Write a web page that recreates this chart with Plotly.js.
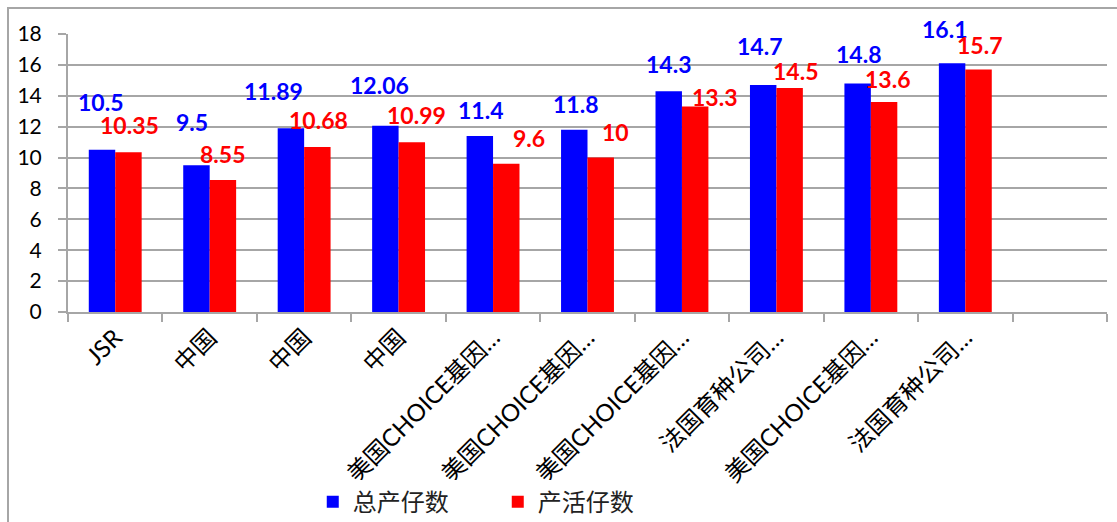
<!DOCTYPE html>
<html>
<head>
<meta charset="utf-8">
<script src="https://cdn.plot.ly/plotly-3.0.1.min.js"></script>
<style>
html,body{margin:0;padding:0;background:#fff;}
#wrap{position:relative;width:1117px;height:522px;overflow:hidden;}
#frame{position:absolute;left:7px;top:7px;width:1200px;height:600px;border-left:2px solid #a6a6a6;border-top:2px solid #a6a6a6;box-sizing:border-box;pointer-events:none;}
#chart{position:absolute;left:0;top:0;width:1117px;height:522px;}
</style>
</head>
<body>
<div id="wrap">
<div id="chart"></div>
<div id="frame"></div>
</div>
<script>
// ---- data ----
const categories = ['JSR', '中国', '中国', '中国', '美国CHOICE基因…', '美国CHOICE基因…', '美国CHOICE基因…', '法国育种公司…', '美国CHOICE基因…', '法国育种公司…'];
const seriesNames = ['总产仔数', '产活仔数'];
const totalBorn = [10.5, 9.5, 11.89, 12.06, 11.4, 11.8, 14.3, 14.7, 14.8, 16.1];
const bornAlive = [10.35, 8.55, 10.68, 10.99, 9.6, 10, 13.3, 14.5, 13.6, 15.7];
const yTicks = [0, 2, 4, 6, 8, 10, 12, 14, 16, 18];

// label placement tweaks (pixels), mimicking the manually moved Excel labels
const blueDx = [-2, -4, -17, -6, 1, 1, 0, -4, 1, -8];
const blueDy = [48, 43, 37, 41, 26, 26, 27, 39, 29, 34];
const redDx = [1, 0, 1, 5, 23, 15, 19, 6, 3, 1];
const redDy = [27, 26, 27, 27, 26, 26, 10, 17, 23, 25];

const idx = categories.map((c, i) => i);
const BLUE = '#0000ff', RED = '#ff0000';
const bargap = 0.44;
const half = (1 - bargap) / 4;

const traces = [
  {type: 'bar', name: seriesNames[0], x: idx, y: totalBorn, marker: {color: BLUE}, hoverinfo: 'y'},
  {type: 'bar', name: seriesNames[1], x: idx, y: bornAlive, marker: {color: RED}, hoverinfo: 'y'}
];

const labelFont = {family: 'Lato, "Open Sans", sans-serif', size: 23, weight: 'bold'};
const annotations = [];
idx.forEach(i => {
  annotations.push({x: i - half, y: totalBorn[i], xref: 'x', yref: 'y', text: String(totalBorn[i]),
    showarrow: false, xshift: blueDx[i], yshift: blueDy[i], font: Object.assign({color: BLUE}, labelFont)});
  annotations.push({x: i + half, y: bornAlive[i], xref: 'x', yref: 'y', text: String(bornAlive[i]),
    showarrow: false, xshift: redDx[i], yshift: redDy[i], font: Object.assign({color: RED}, labelFont)});
});

const layout = {
  width: 1117, height: 522,
  margin: {l: 68, r: 10, t: 34, b: 210, autoexpand: false},
  paper_bgcolor: '#fff', plot_bgcolor: '#fff',
  barmode: 'group', bargap: bargap, bargroupgap: 0,
  showlegend: true,
  legend: {orientation: 'h', x: 0.28, xref: 'container', xanchor: 'left', y: 0.038, yref: 'container', yanchor: 'middle',
    entrywidth: 140, entrywidthmode: 'pixels', itemwidth: 30,
    font: {family: '"Noto Sans CJK SC", sans-serif', size: 24, color: '#222'}},
  xaxis: {
    range: [-0.5, categories.length + 0.5], automargin: false,
    tickmode: 'array', tickvals: idx, ticktext: categories,
    tickangle: -45, ticks: '', showgrid: false, zeroline: false,
    showline: true, linecolor: '#a6a6a6', linewidth: 2,
    tickfont: {family: 'Lato, "Noto Sans CJK SC", sans-serif', size: 24, color: '#000'},
    minor: {tickmode: 'linear', tick0: -0.5, dtick: 1, ticks: 'outside', ticklen: 8, tickcolor: '#a6a6a6', tickwidth: 2, showgrid: false},
    fixedrange: true
  },
  yaxis: {
    range: [0, 18], tickmode: 'array', tickvals: yTicks, automargin: false,
    showgrid: true, gridcolor: '#a6a6a6', gridwidth: 2,
    zeroline: false, showline: true, linecolor: '#a6a6a6', linewidth: 2,
    ticks: 'outside', ticklen: 8, tickcolor: '#a6a6a6', tickwidth: 2,
    ticklabelstandoff: 12,
    tickfont: {family: 'Lato, "Open Sans", sans-serif', size: 21, color: '#000'},
    fixedrange: true
  },
  annotations: annotations
};

Plotly.newPlot('chart', traces, layout, {displayModeBar: false, staticPlot: true});
</script>
</body>
</html>
